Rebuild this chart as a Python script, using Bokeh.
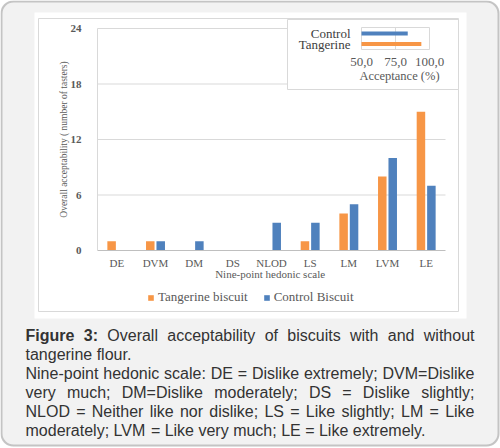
from bokeh.plotting import figure
from bokeh.models import (Range1d, BoxAnnotation, FixedTicker,
                          Legend, LegendItem, ColumnDataSource)
from bokeh.transform import dodge
from bokeh.core.properties import value
from bokeh.embed import file_html
from bokeh.resources import INLINE

# hedonic scale counts (number of tasters)
categories = ["DE", "DVM", "DM", "DS", "NLOD", "LS", "LM", "LVM", "LE"]
tangerine_biscuit = [1, 1, 0, 0, 0, 1, 4, 8, 15]
control_biscuit = [0, 1, 1, 0, 3, 3, 5, 10, 7]
y_ticks = [0, 6, 12, 18, 24]

# small inset: acceptance (%)
acceptance_groups = ["Control", "Tangerine"]
acceptance_pct = [84.0, 94.0]
acceptance_ticks = [50, 75, 100]
acceptance_tick_labels = ["50,0", "75,0", "100,0"]

caption_lines = [
    "Figure 3: Overall acceptability of biscuits with and without",
    "tangerine flour.",
    "Nine-point hedonic scale: DE = Dislike extremely; DVM=Dislike",
    "very much; DM=Dislike moderately; DS = Dislike slightly;",
    "NLOD = Neither like nor dislike; LS = Like slightly; LM = Like",
    "moderately; LVM = Like very much; LE = Like extremely.",
]
caption_justified = [True, False, True, True, True, False]

ORANGE = "#f79646"
BLUE = "#4f81bd"
GREY_TXT = "#595959"
PAGE = "#f2f2f2"
SERIF = "Liberation Serif"

# Arial / Liberation Sans advance widths (per 1000 em), used to justify the caption
ARIAL = dict(zip("abcdefghijklmnopqrstuvwxyz",
                 [556, 556, 500, 556, 556, 278, 556, 556, 222, 222, 500, 222, 833,
                  556, 556, 556, 556, 333, 500, 278, 556, 500, 722, 500, 500, 500]))
ARIAL.update(dict(zip("ABCDEFGHIJKLMNOPQRSTUVWXYZ",
                      [667, 667, 722, 722, 667, 611, 778, 722, 278, 500, 667, 556, 833,
                       722, 778, 667, 778, 722, 667, 611, 722, 667, 944, 667, 667, 611])))
ARIAL.update({" ": 278, ".": 278, ",": 278, ":": 278, ";": 278, "=": 584, "-": 333, "3": 556})
ARIAL_BOLD = {"F": 611, "i": 278, "g": 611, "u": 611, "r": 389, "e": 556, "3": 556, ":": 333}
CAP_SIZE = 16


def word_width(w, bold=False):
    table = ARIAL_BOLD if bold else ARIAL
    return sum(table[c] for c in w) * CAP_SIZE / 1000.0


W, H = 500, 448
# plot area in page pixels: categories span x 97..445, 0..24 spans y 250..28
PL, PR, P0, P24 = 97, 445, 250, 28
cat_px = (PR - PL) / len(categories)
y_px = (P0 - P24) / 24.0
cat_x = [i + 0.5 for i in range(len(categories))]

# frame covers the whole figure; the axes sit at fixed data locations inside it
p = figure(width=W, height=H,
           x_range=Range1d(-PL / cat_px, len(categories) + (W - PR) / cat_px),
           y_range=Range1d(-(H - P0) / y_px, P0 / y_px),
           output_backend="svg", toolbar_location=None, min_border=0)
p.min_border_left = p.min_border_right = p.min_border_top = p.min_border_bottom = 0

# page-pixel ranges for decorations, and ranges for the inset chart
a0, a1 = 361, 429          # page x of 50 % and 100 %
sc = (a1 - a0) / 50.0
r0, r1 = 33, 43.5          # page y of the Control / Tangerine rows
rs = r1 - r0
p.extra_x_ranges = {"px": Range1d(0, W),
                    "acc": Range1d(50 - a0 / sc, 100 + (W - a1) / sc)}
p.extra_y_ranges = {"px": Range1d(H, 0),
                    "accy": Range1d((H - r0) / rs, -r0 / rs)}

p.background_fill_color = "white"
p.border_fill_color = "white"
p.outline_line_color = None
p.grid.visible = False

# grey page with rounded border, white chart panel with its thin frame
p.add_layout(BoxAnnotation(left=0, right=W - 1, top=0, bottom=446, x_range_name="px",
                           y_range_name="px", fill_color=PAGE, fill_alpha=1,
                           line_color=None, border_radius=12, level="image"))
p.quad(left=34, right=466, top=12, bottom=318, x_range_name="px", y_range_name="px",
       fill_color="white", line_color=None, level="underlay")
p.quad(left=38, right=458, top=18, bottom=311, x_range_name="px", y_range_name="px",
       fill_alpha=0, line_color="#d9d9d9", level="underlay")

# horizontal gridlines over the category span only
p.segment(x0=0, x1=len(categories), y0=y_ticks[1:], y1=y_ticks[1:],
          line_color="#d9d9d9", line_width=1, level="underlay")

src = ColumnDataSource(dict(x=cat_x, tan=tangerine_biscuit, con=control_biscuit))
r_t = p.vbar(x=dodge("x", -0.135), top="tan", width=0.22, source=src,
             fill_color=ORANGE, line_color=None)
r_c = p.vbar(x=dodge("x", 0.135), top="con", width=0.22, source=src,
             fill_color=BLUE, line_color=None)

p.xaxis.fixed_location = 0
p.yaxis.fixed_location = 0
p.xaxis.ticker = FixedTicker(ticks=cat_x)
p.xaxis.major_label_overrides = dict(zip(cat_x, categories))
p.xaxis.bounds = (0, len(categories))
p.yaxis.ticker = FixedTicker(ticks=y_ticks)
p.yaxis.bounds = (y_ticks[0], y_ticks[-1])
p.yaxis.axis_label = "Overall acceptability ( number of tasters)"
p.xaxis.axis_label = "Nine-point  hedonic scale"
for ax in (p.xaxis, p.yaxis):
    ax.major_tick_line_color = None
    ax.minor_tick_line_color = None
    ax.major_label_text_font = SERIF
    ax.major_label_text_color = GREY_TXT
    ax.axis_label_text_font = SERIF
    ax.axis_label_text_color = GREY_TXT
    ax.axis_label_text_font_style = "normal"
p.xaxis.axis_line_color = "#bfbfbf"
p.yaxis.axis_line_color = "#d9d9d9"
p.xaxis.major_label_text_font_size = "11px"
p.yaxis.major_label_text_font_size = "11px"
p.yaxis.major_label_text_font_style = "bold"
p.xaxis.axis_label_text_font_size = "11px"
p.yaxis.axis_label_text_font_size = "9.5px"
p.xaxis.major_label_standoff = 0
p.yaxis.major_label_standoff = 10
p.xaxis.axis_label_standoff = -4
p.yaxis.axis_label_standoff = -1

legend = Legend(items=[LegendItem(label="Tangerine biscuit", renderers=[r_t]),
                       LegendItem(label="Control Biscuit", renderers=[r_c])],
                orientation="horizontal", location=(147, H - 305), glyph_width=7,
                glyph_height=7, label_standoff=4, spacing=15, padding=0, margin=0,
                label_height=7, border_line_color=None, background_fill_alpha=0,
                label_text_font=SERIF, label_text_font_size="13px",
                label_text_color=GREY_TXT)
p.add_layout(legend)

# inset box with the acceptance bars
p.quad(left=287, right=458, top=19, bottom=89, x_range_name="px", y_range_name="px",
       fill_color="white", line_color="#d9d9d9")
yb, yt = (27 - r0) / rs, (49 - r0) / rs
p.quad(left=acceptance_ticks[0], right=acceptance_ticks[-1], bottom=yb, top=yt,
       x_range_name="acc", y_range_name="accy", fill_alpha=0, line_color="#d9d9d9")
p.segment(x0=acceptance_ticks[1:-1], x1=acceptance_ticks[1:-1], y0=yb, y1=yt,
          x_range_name="acc", y_range_name="accy", line_color="#d9d9d9")
p.hbar(y=list(range(len(acceptance_groups))), left=acceptance_ticks[0], right=acceptance_pct,
       height=4 / rs, fill_color=[BLUE, ORANGE], line_color=None,
       x_range_name="acc", y_range_name="accy")
p.text(x=[350] * len(acceptance_groups), y=list(range(len(acceptance_groups))),
       text=acceptance_groups, x_range_name="px", y_range_name="accy",
       text_align="right", text_baseline="middle", text_font=value(SERIF),
       text_font_size="13px", text_color="#404040")
p.text(x=acceptance_ticks, y=[61] * len(acceptance_ticks), text=acceptance_tick_labels,
       x_range_name="acc", y_range_name="px", text_align="center", text_baseline="middle",
       text_font=value(SERIF), text_font_size="13px", text_color=GREY_TXT)
p.text(x=[399], y=[75], text=["Acceptance (%)"], x_range_name="px", y_range_name="px",
       text_align="center", text_baseline="middle", text_font=value(SERIF),
       text_font_size="12.5px", text_color=GREY_TXT)

# caption, justified like the source
cx0, cx1 = 25, 474
baselines = [334.5, 353.5, 372.5, 391.5, 410.5, 429.5]
words_n = dict(x=[], y=[], text=[])
words_b = dict(x=[], y=[], text=[])
for i, line in enumerate(caption_lines):
    words = line.split(" ")
    bold = [i == 0 and j < 2 for j in range(len(words))]
    widths = [word_width(w, b) for w, b in zip(words, bold)]
    if caption_justified[i]:
        gap = (cx1 - cx0 - sum(widths)) / (len(words) - 1)
    else:
        gap = ARIAL[" "] * CAP_SIZE / 1000.0
    x = cx0
    for w, b, wd in zip(words, bold, widths):
        d = words_b if b else words_n
        d["x"].append(x)
        d["y"].append(baselines[i])
        d["text"].append(w)
        x += wd + gap
for d, style in ((words_n, "normal"), (words_b, "bold")):
    p.text(x="x", y="y", text="text", source=ColumnDataSource(d),
           x_range_name="px", y_range_name="px",
           text_font=value("Liberation Sans"), text_font_size="%dpx" % CAP_SIZE,
           text_font_style=style, text_color="#333333", text_baseline="alphabetic")

# rounded outer border line
p.add_layout(BoxAnnotation(left=1, right=W - 2, top=1, bottom=445, x_range_name="px",
                           y_range_name="px", fill_alpha=0, line_color="#5a5a5a",
                           line_width=2, border_radius=12, level="overlay"))

open("out.html", "w").write(file_html(p, INLINE))
